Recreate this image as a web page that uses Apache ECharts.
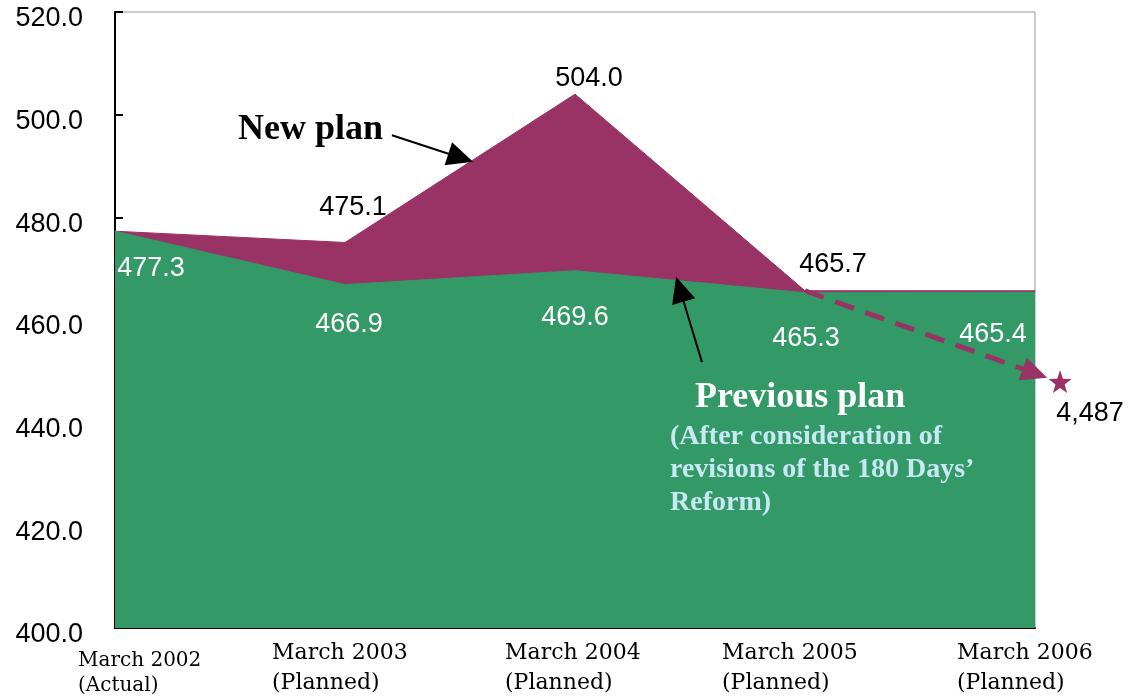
<!DOCTYPE html>
<html>
<head>
<meta charset="utf-8">
<script src="https://cdn.jsdelivr.net/npm/echarts@6/dist/echarts.min.js"></script>
<style>
  html, body { margin: 0; padding: 0; background: #fff; }
  #chart { width: 1136px; height: 697px; }
</style>
</head>
<body>
<div id="chart"></div>
<script>
  // data
  var categories = ['March 2002\n(Actual)', 'March 2003\n(Planned)', 'March 2004\n(Planned)', 'March 2005\n(Planned)', 'March 2006\n(Planned)'];
  var previousPlan = [477.3, 466.9, 469.6, 465.3, 465.4];
  var newPlan = [477.3, 475.1, 504.0, 465.7, 465.7];
  var projectedArrow = [4.0, 449.6];   // centre of the dashed arrow head
  var projectedStar = [4.109, 448.0];  // star marker
  var projectedLabel = '4,487';
  var yMin = 400, yMax = 520, yStep = 20;

  // label offsets (px) from each point, centre based
  var newLabelOffsets = [null, [8, -35], [14, -16], [28, -26], null];
  var prevLabelOffsets = [[36, 37], [4, 40], [0, 47], [1, 46], [-42, 42]];
  // width of the x label block (left edge = tick - width / 2)
  var xLabelWidths = [74, 146, 140, 166, 156];

  var GREEN = '#339966';
  var PURPLE = '#993366';
  var SANS = 'Liberation Sans, Arial, sans-serif';
  var SERIF = 'DejaVu Serif, serif';
  var TIMES = 'Liberation Serif, serif';

  function withLabels(values, offsets, color) {
    return values.map(function (v, i) {
      var o = offsets[i];
      return {
        value: v,
        label: o ? {
          show: true, position: 'inside', offset: o,
          color: color, fontFamily: SANS, fontSize: 27,
          formatter: function (p) { return p.value.toFixed(1); }
        } : { show: false }
      };
    });
  }

  var xRich = {
    s: { fontSize: 10, lineHeight: 10 },
    f: { fontFamily: SERIF, fontSize: 20, color: '#000', width: xLabelWidths[0], align: 'left', lineHeight: 25 }
  };
  for (var k = 1; k < xLabelWidths.length; k++) {
    xRich['a' + k] = { fontFamily: SERIF, fontSize: 22, color: '#000', width: xLabelWidths[k], align: 'left', lineHeight: 30 };
  }

  var chart = echarts.init(document.getElementById('chart'));
  var option = {
    backgroundColor: '#fff',
    animation: false,
    grid: [
      { left: 115, right: 101, top: 12, bottom: 69, show: true, borderColor: '#999', borderWidth: 1 },
      { left: 115, right: 32, top: 12, bottom: 69, show: false }
    ],
    xAxis: [
      {
        type: 'category',
        gridIndex: 0,
        data: categories,
        boundaryGap: false,
        axisLine: { lineStyle: { color: '#000', width: 2 } },
        axisTick: { show: false },
        splitLine: { show: false },
        axisLabel: {
          interval: 0,
          margin: 10,
          verticalAlign: 'top',
          formatter: function (v, i) {
            var parts = v.split('\n');
            if (i === 0) return '{s| }\n{f|' + parts[0] + '}\n{f|' + parts[1] + '}';
            return '{a' + i + '|' + parts[0] + '}\n{a' + i + '|' + parts[1] + '}';
          },
          rich: xRich
        }
      },
      { type: 'value', gridIndex: 1, min: 0, max: 4.3, show: false }
    ],
    yAxis: [
      {
        type: 'value',
        gridIndex: 0,
        min: yMin, max: yMax, interval: yStep,
        axisLine: { show: true, lineStyle: { color: '#000', width: 2 } },
        axisTick: { show: true, inside: true, length: 8, lineStyle: { color: '#000', width: 2 } },
        splitLine: { show: false },
        axisLabel: {
          margin: 32, color: '#000', fontFamily: SANS, fontSize: 27,
          verticalAlign: 'top', lineHeight: 14,
          formatter: function (v) { return v.toFixed(1); }
        }
      },
      { type: 'value', gridIndex: 1, min: yMin, max: yMax, show: false }
    ],
    series: [
      {
        name: 'New plan',
        type: 'line',
        data: withLabels(newPlan, newLabelOffsets, '#000'),
        symbol: 'circle', symbolSize: 1,
        itemStyle: { color: PURPLE },
        lineStyle: { color: PURPLE, width: 1 },
        areaStyle: { color: PURPLE, opacity: 1, origin: 'start' },
        z: 2
      },
      {
        name: 'Previous plan',
        type: 'line',
        data: withLabels(previousPlan, prevLabelOffsets, '#fff'),
        symbol: 'circle', symbolSize: 1,
        itemStyle: { color: GREEN },
        lineStyle: { color: GREEN, width: 1 },
        areaStyle: { color: GREEN, opacity: 1, origin: 'start' },
        z: 3
      },
      {
        name: 'Projection',
        type: 'scatter',
        xAxisIndex: 1,
        yAxisIndex: 1,
        clip: false,
        data: [projectedStar],
        symbol: 'path://M0,-10L2.35,-3.24L9.51,-3.09L3.8,1.24L5.88,8.09L0,4L-5.88,8.09L-3.8,1.24L-9.51,-3.09L-2.35,-3.24Z',
        symbolSize: 23,
        itemStyle: { color: PURPLE, opacity: 1 },
        label: {
          show: true, position: 'inside', offset: [30, 32],
          color: '#000', fontFamily: SANS, fontSize: 27,
          formatter: projectedLabel
        },
        z: 6,
        markLine: {
          silent: true,
          symbol: ['none', 'triangle'],
          label: { show: false },
          z: 5,
          data: [
            [
              { coord: [3, newPlan[3]], symbol: 'none' },
              { coord: projectedArrow, symbol: 'triangle', symbolSize: [24, 26],
                lineStyle: { color: PURPLE, width: 5, type: [20, 12], opacity: 1 },
                itemStyle: { color: PURPLE } }
            ],
            [
              { coord: [1.204, 496.0], symbol: 'none' },
              { coord: [1.503, 491.6], symbol: 'triangle', symbolSize: [24, 26],
                lineStyle: { color: '#000', width: 2, type: 'solid', opacity: 1 },
                itemStyle: { color: '#000' } }
            ],
            [
              { coord: [2.552, 451.8], symbol: 'none' },
              { coord: [2.456, 466.0], symbol: 'triangle', symbolSize: [24, 26],
                lineStyle: { color: '#000', width: 2, type: 'solid', opacity: 1 },
                itemStyle: { color: '#000' } }
            ]
          ]
        }
      }
    ],
    graphic: [
      { type: 'text', left: 238, top: 112, z: 10,
        style: { text: 'New plan', fontFamily: TIMES, fontWeight: 'bold', fontSize: 36, fill: '#000' } },
      { type: 'text', left: 695, top: 380, z: 10,
        style: { text: 'Previous plan', fontFamily: TIMES, fontWeight: 'bold', fontSize: 36, fill: '#fff' } },
      { type: 'text', left: 670, top: 420, z: 10,
        style: { text: '(After consideration of\nrevisions of the 180 Days\u2019\nReform)', fontFamily: TIMES, fontWeight: 'bold', fontSize: 28, lineHeight: 33, fill: '#c8e8f6' } }
    ]
  };
  chart.setOption(option);
</script>
</body>
</html>
